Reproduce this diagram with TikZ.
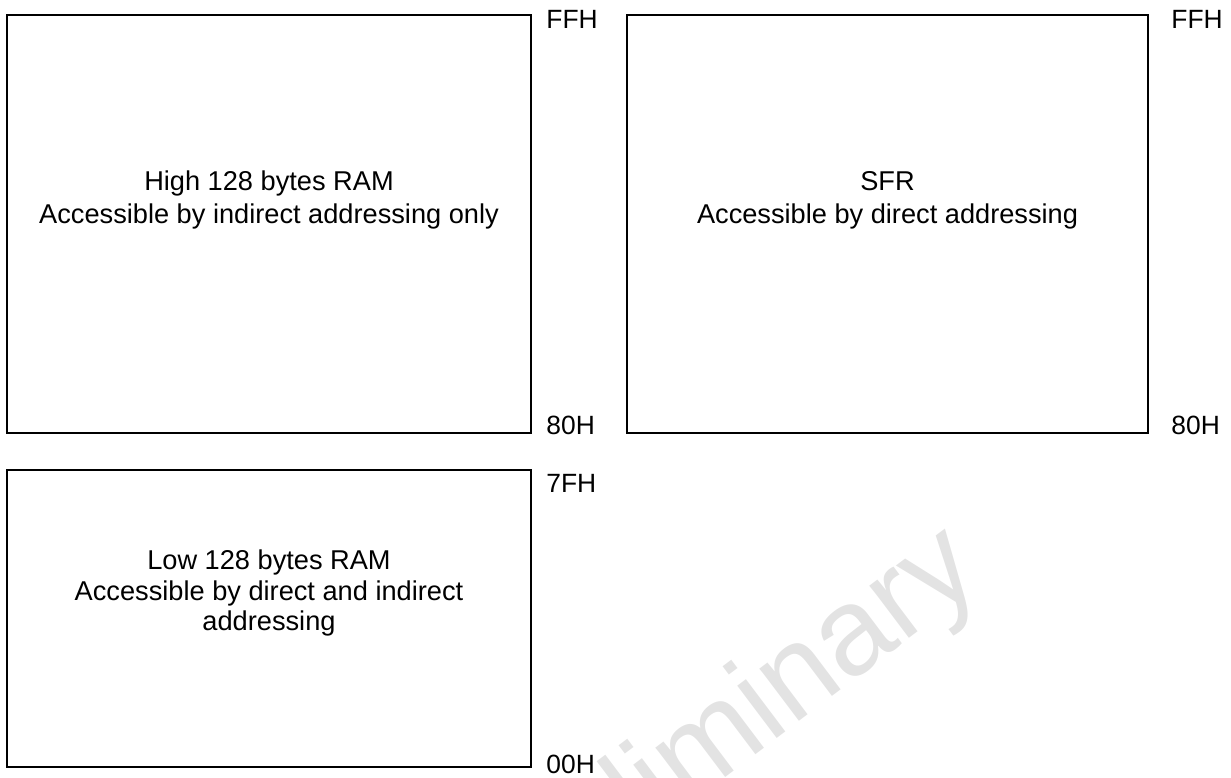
\documentclass[tikz,border=0pt]{standalone}
\usepackage{fontspec}
\setmainfont{Liberation Sans}
\begin{document}
\begin{tikzpicture}[x=0.5pt,y=-0.5pt,
  membox/.style={draw=black,line width=0.85pt,inner sep=0pt},
  txt/.style={font=\fontsize{13.6}{15}\selectfont,inner sep=0pt,anchor=base},
  addr/.style={font=\fontsize{13.2}{15}\selectfont,inner sep=0pt,anchor=base west}]
\useasboundingbox (0,0) rectangle (1231,777);
\begin{scope}
\clip (0,0) rectangle (1231,777);
\node[font=\fontsize{62}{62}\selectfont,text=black!11,rotate=37,anchor=base west,inner sep=0pt] (wm) at (490,955) {Preliminary};
\end{scope}
% boxes
\node[membox,minimum width=262pt,minimum height=209pt] (hi) at (269,224) {};
\node[membox,minimum width=260.5pt,minimum height=209pt] (sfr) at (887.5,224) {};
\node[membox,minimum width=262pt,minimum height=148.5pt] (lo) at (269,618.5) {};
% texts
\node[txt] (hi1) at (269,190) {High 128 bytes RAM};
\node[txt] (hi2) at (269,223) {Accessible by indirect addressing only};
\node[txt] (sf1) at (887.5,190) {SFR};
\node[txt] (sf2) at (887.5,223) {Accessible by direct addressing};
\node[txt] (lo1) at (269,569) {Low 128 bytes RAM};
\node[txt] (lo2) at (269,600) {Accessible by direct and indirect};
\node[txt] (lo3) at (269,630) {addressing};
% address labels
\node[addr] (a1) at (546,28) {FFH};
\node[addr] (a2) at (546,434) {80H};
\node[addr] (a3) at (546,492) {7FH};
\node[addr] (a4) at (546,773) {00H};
\node[addr] (a5) at (1171,28) {FFH};
\node[addr] (a6) at (1171,434) {80H};
\end{tikzpicture}
\end{document}
